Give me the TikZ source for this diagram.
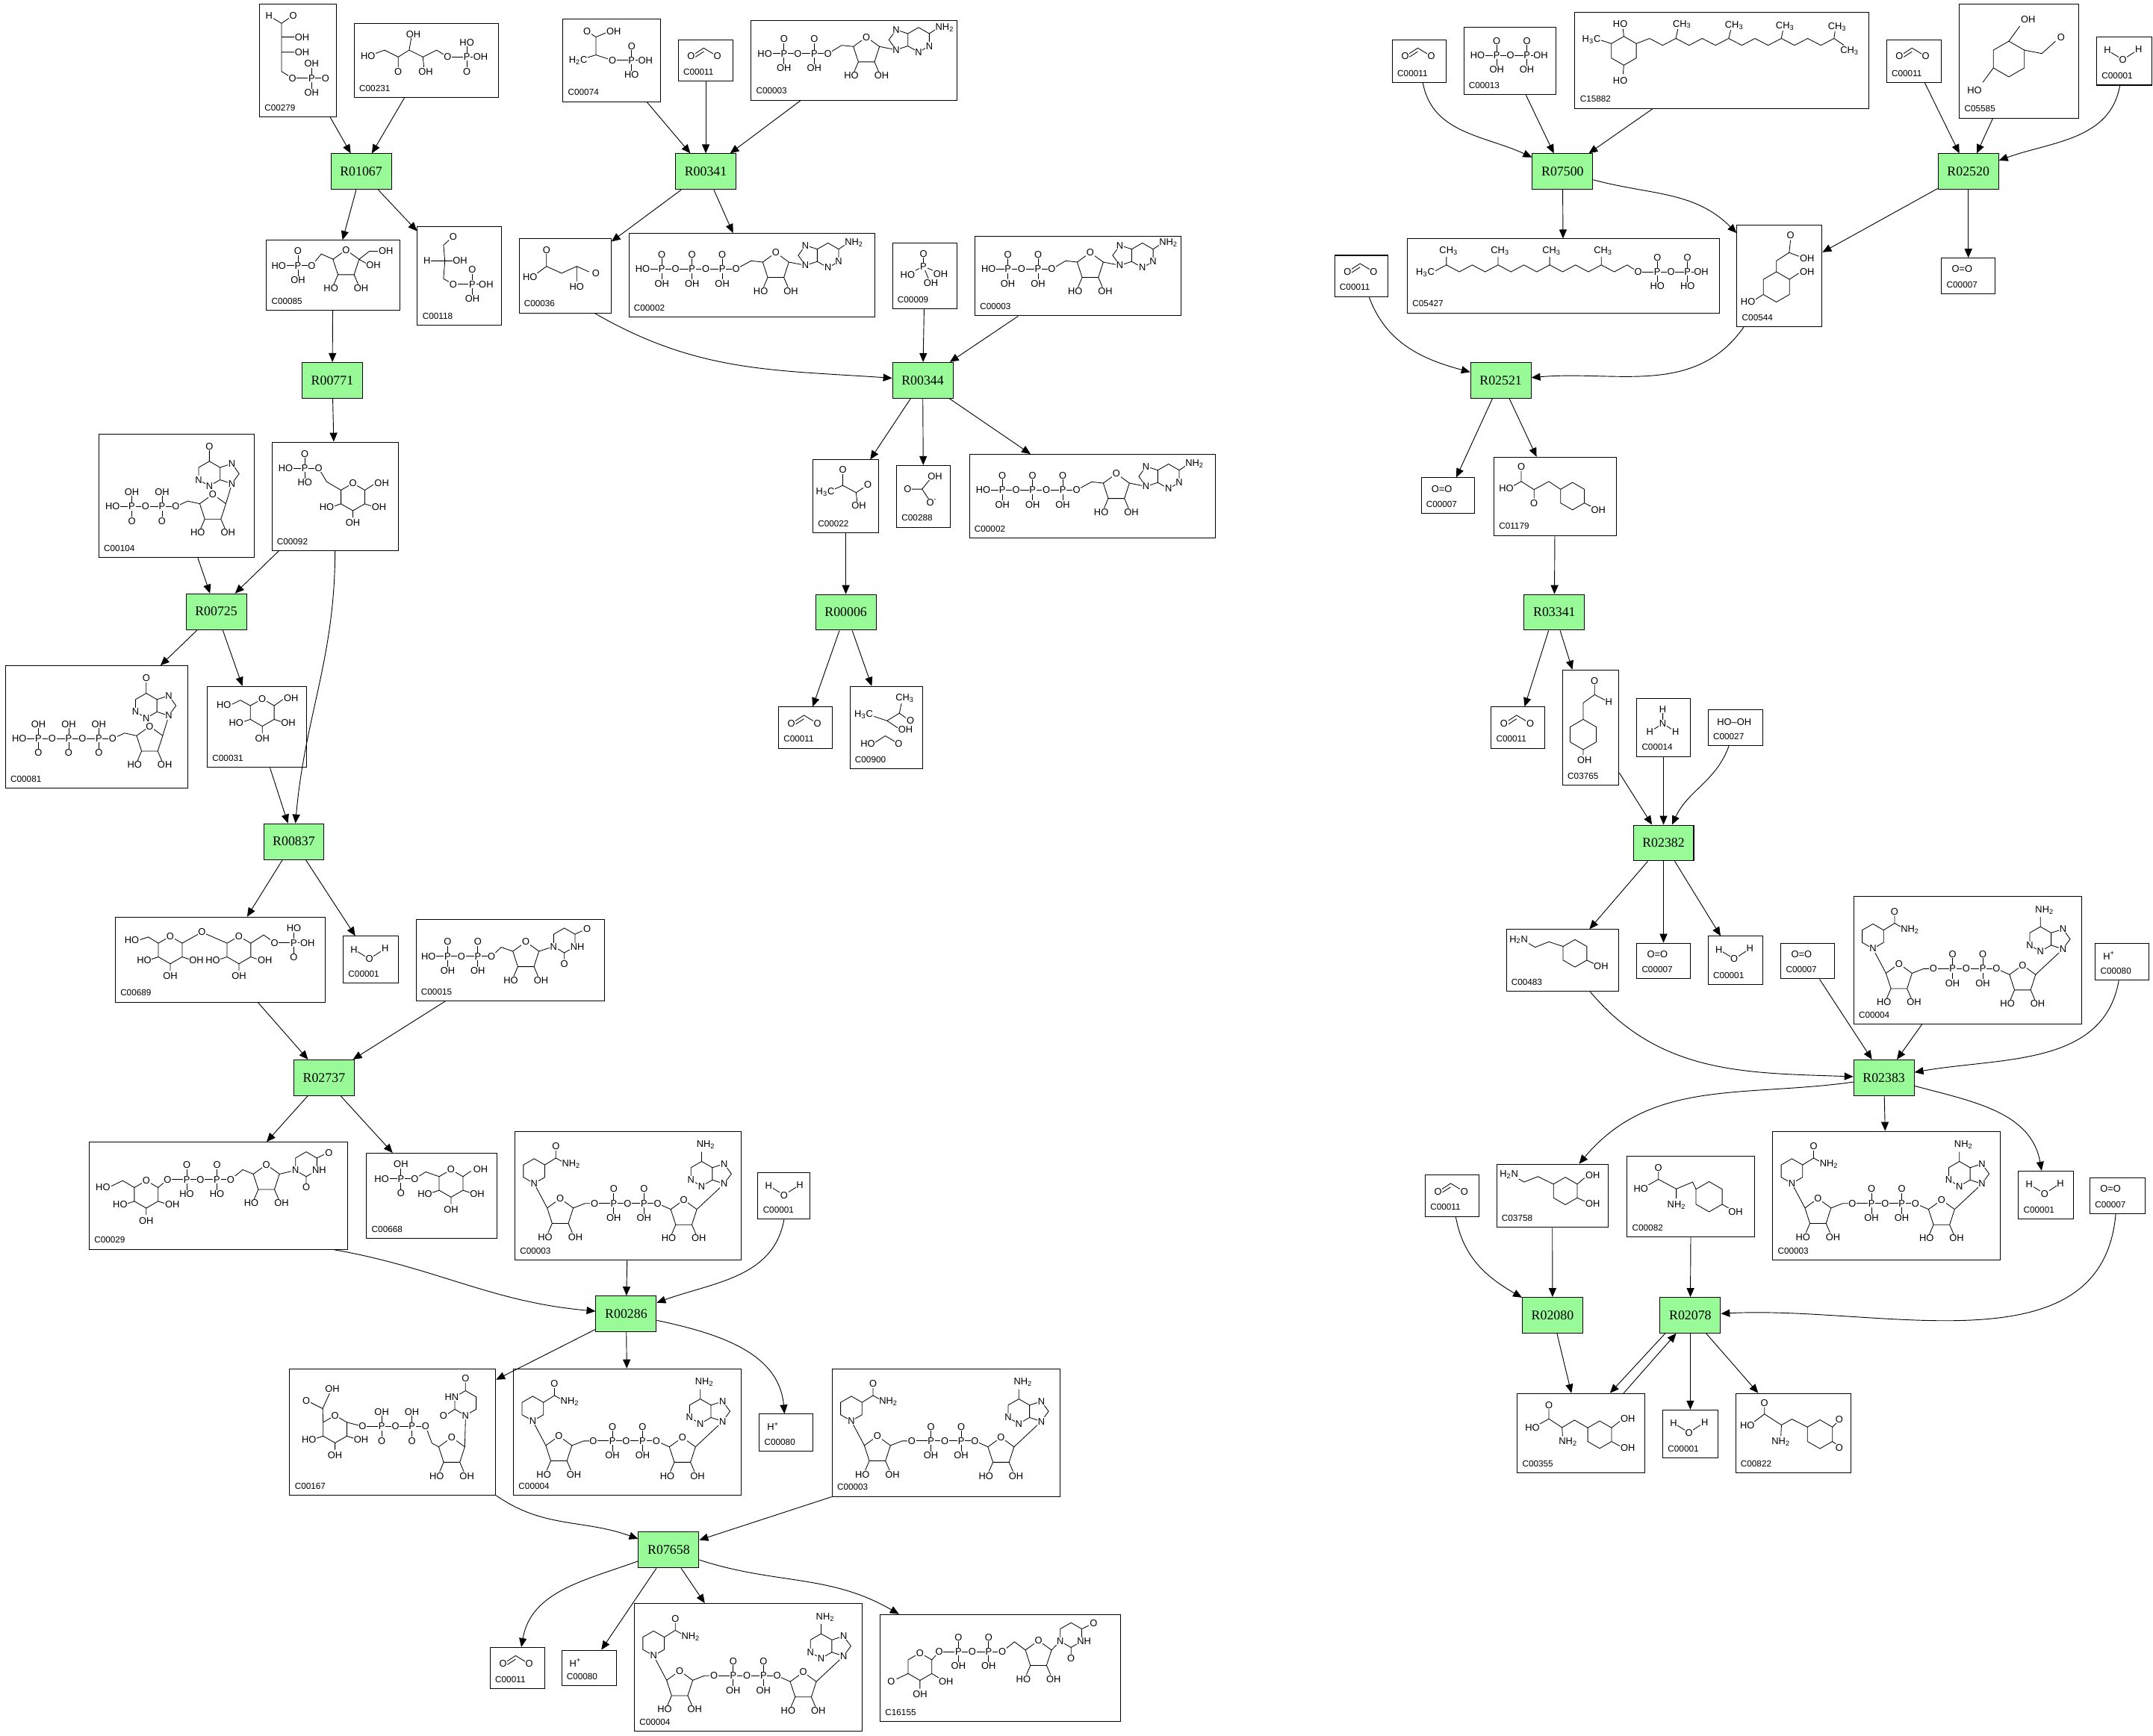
\documentclass[tikz,border=0pt]{standalone}
\usepackage{fontspec}
\setmainfont{Liberation Serif}
\setsansfont{Liberation Sans}
\usetikzlibrary{arrows.meta}
\definecolor{rxngreen}{RGB}{152,251,152}
\tikzset{
  rxn/.style={draw, line width=0.55pt, fill=rxngreen, minimum width=44pt, minimum height=26pt, inner sep=0pt, font=\fontsize{9.7}{10}\selectfont},
  cpdbox/.style={draw, line width=0.55pt, inner sep=0pt},
  cid/.style={anchor=base west, inner sep=0pt, font=\sffamily\fontsize{6.4}{7}\selectfont},
  atom/.style={fill=white, inner sep=0.4pt, font=\sffamily\fontsize{7}{8}\selectfont},
  bond/.style={line width=0.45pt},
  link/.style={line width=0.5pt, -{Triangle[length=6.5pt,width=5.5pt]}},
}
\newcommand\atm[3]{\node[atom] at (#1,#2) {#3};}
\newcommand\hexa[3]{\draw[bond] (#1,#2) +(-90:#3) -- +(-30:#3) -- +(30:#3) -- +(90:#3) -- +(150:#3) -- +(210:#3) -- cycle;}
\newcommand\ribose[2]{%
  \draw[bond] (#1,#2) +(-90:10) -- +(-18:10) -- +(54:10) -- +(126:10) -- +(198:10) -- cycle
    (#1,#2) ++(54:10) -- ++(3,7) (#1,#2) ++(126:10) -- ++(-3,7);
  \atm{#1}{#2-10}{O}\atm{#1-11}{#2+18}{HO}\atm{#1+11}{#2+18}{OH}}
\newcommand\purine[3]{%
  \begin{scope}[shift={(#1,#2)},xscale=#3]
    \draw[bond] (0,0) +(-90:9) -- +(-30:9) -- +(30:9) -- +(90:9) -- +(150:9) -- +(210:9) -- cycle
      (14,0) +(144:7.66) -- +(72:7.66) -- +(0:7.66) -- +(-72:7.66) -- +(-144:7.66);
    \atm{0}{9}{N}\atm{-7.8}{4.5}{N}\atm{16.4}{-7.3}{N}\atm{16.4}{7.3}{N}
  \end{scope}}
\newcommand\nicot[2]{%
  \hexa{#1}{#2}{9}
  \draw[bond] (#1+7.8,#2-4.5) -- (#1+15.8,#2-9.5) -- (#1+15.8,#2-15) (#1+15.8,#2-9.5) -- (#1+22,#2-6);
  \atm{#1}{#2+9}{N}\atm{#1+15.8}{#2-18}{O}\atm{#1+27}{#2-5}{NH\textsubscript{2}}}
\newcommand\uracil[2]{%
  \hexa{#1}{#2}{9}
  \draw[bond] (#1,#2+9) -- (#1,#2+14) (#1+7.8,#2-4.5) -- (#1+13,#2-7);
  \atm{#1-7.8}{#2+4.5}{N}\atm{#1+9.5}{#2+4.5}{NH}\atm{#1}{#2+17}{O}\atm{#1+16.5}{#2-8.5}{O}}
\newcommand\pyran[2]{%
  \hexa{#1}{#2}{10}
  \draw[bond] (#1+8.66,#2+5) -- ++(6,2) (#1,#2+10) -- ++(0,5) (#1-8.66,#2+5) -- ++(-6,2);
  \atm{#1}{#2-10}{O}\atm{#1+19}{#2+7.5}{OH}\atm{#1}{#2+19}{OH}\atm{#1-19}{#2+7.5}{HO}}
\newcommand\pchain[7]{%
  \draw[bond] (#1,#2) -- ({#1+22*#3+2},#2);
  \foreach \k in {1,...,#3}{
    \draw[bond] ({#1+22*\k-8},{#2-10.5}) -- ({#1+22*\k-8},{#2+10.5});
    \atm{#1+22*\k-8}{#2}{P}\atm{#1+22*\k-8}{#2-10.5}{#5}\atm{#1+22*\k-8}{#2+10.5}{#6}
    \ifnum\k>1 \atm{#1+22*\k-20}{#2}{O}\fi
  }
  \atm{#1}{#2}{#4}\atm{#1+22*#3+2}{#2}{#7}}
\newcommand\cotwo{\draw[bond] (9.3,12) -- (18.5,6) -- (28.4,12) (12.5,12.5) -- (18.5,8.6);\atm{9.3}{12}{O}\atm{28.4}{12}{O}}
\newcommand\water{\draw[bond] (7.8,9.6) -- (19,16.5) -- (30.5,9);\atm{7.8}{9.6}{H}\atm{19}{16.5}{O}\atm{30.5}{9}{H}}
\newcommand\dioxy{\atm{15}{8}{O=O}}
\newcommand\proton{\atm{10}{9}{H\textsuperscript{+}}}
\newcommand\atp[3]{%
  \draw[bond] ({12+22*#1},#2) -- ({#3-18},{#2-6}) -- ({#3-9.5},{#2-5.1})
    ({#3+9.5},{#2-5.1}) -- ({#3+21.6},{#2-2.7}) ({#3+45.8},{#2-14.5}) -- ({#3+51},{#2-18});
  \pchain{10}{#2}{#1}{HO}{O}{OH}{O}
  \ribose{#3}{#2-2}
  \purine{#3+38}{#2-10}{-1}
  \atm{#3+57}{#2-19}{NH\textsubscript{2}}}
\newcommand\ino[1]{%
  \draw[bond] ({12+22*#1},53) -- ({20.7+22*#1},49) -- ({29.5+22*#1},50.9)
    ({48.5+22*#1},50.9) -- ({52.9+22*#1},36.3) ({36.5+22*#1},20) -- ({36.5+22*#1},12);
  \pchain{10}{53}{#1}{HO}{OH}{O}{O}
  \ribose{39+22*#1}{54}
  \purine{36.5+22*#1}{29}{1}
  \atm{36.5+22*#1}{9}{O}}
\newcommand\nad{%
  \draw[bond] (14,38) -- (23.5,55.9) (42.5,55.9) -- (51,52.6) -- (58,52.6) (104,52.6) -- (113.5,56.9)
    (132.5,56.9) -- (152.4,38.3) (136,22) -- (136,15);
  \nicot{14}{29}
  \ribose{33}{59}
  \ribose{123}{60}
  \pchain{58}{52.6}{2}{O}{O}{OH}{O}
  \purine{136}{31}{1}
  \atm{139}{10}{NH\textsubscript{2}}}
\newcommand\cpd[7]{%
  \node[cpdbox, minimum width={(#4-#2)*1pt}, minimum height={(#5-#3)*1pt}] (#1) at ({(#2+#4)/2},{-(#3+#5)/2}) {};
  \begin{scope}[shift={(#2,-#3)},yscale=-1]
    \node[cid] (#1id) at (3.5,{#5-#3-4.5}) {#6};
    #7
  \end{scope}}

\begin{document}
\begin{tikzpicture}[x=1pt,y=1pt]
\useasboundingbox (0,0) rectangle (1568,-1264);

\node[rxn] (r01067) at (263,-125) {R01067};
\node[rxn] (r00341) at (514,-125) {R00341};
\node[rxn] (r00771) at (242,-277) {R00771};
\node[rxn] (r00344) at (672,-277) {R00344};
\node[rxn] (r00725) at (157.5,-445.5) {R00725};
\node[rxn] (r00006) at (616,-446) {R00006};
\node[rxn] (r00837) at (214,-613) {R00837};
\node[rxn] (r02737) at (236,-785) {R02737};
\node[rxn] (r00286) at (456,-957) {R00286};
\node[rxn] (r07658) at (487,-1129) {R07658};
\node[rxn] (r07500) at (1138,-125) {R07500};
\node[rxn] (r02520) at (1433.5,-125) {R02520};
\node[rxn] (r02521) at (1093,-277) {R02521};
\node[rxn] (r03341) at (1132,-446) {R03341};
\node[rxn] (r02382) at (1211.5,-614) {R02382};
\node[rxn] (r02383) at (1372,-785) {R02383};
\node[rxn] (r02080) at (1130.7,-958) {R02080};
\node[rxn] (r02078) at (1231,-958) {R02078};

\cpd{c279}{189}{3}{245}{85}{C00279}{
  \draw[bond] (7,8.5) -- (16,14) -- (24,8.5) (16,14) -- (16,49) -- (24,54) (16,24) -- (28,24) (16,35) -- (28,35);
  \atm{7}{8.5}{H}\atm{24.5}{8.5}{O}\atm{31}{24}{OH}\atm{31}{35}{OH}
  \pchain{24}{54}{1}{O}{OH}{OH}{O}}
\cpd{c231}{258}{17}{363}{71}{C00231}{
  \draw[bond] (10,24) -- (22,19.5) -- (32,24.5) -- (40,19.5) -- (50,24.5) -- (60,19.5) -- (68,24.5) (32,24.5) -- (32,35) (40,19.5) -- (42,8) (50,24.5) -- (51,35);
  \atm{10}{24}{HO}\atm{32}{35}{O}\atm{43}{8}{OH}\atm{52}{35}{OH}
  \pchain{68}{24.5}{1}{O}{HO}{O}{OH}}
\cpd{c74}{410}{14}{481}{74}{C00074}{
  \draw[bond] (11,30) -- (24,26) -- (24,13) -- (17.5,8.7) (24,13) -- (34,8.7) (24,26) -- (36,30);
  \atm{11}{30}{H\textsubscript{2}C}\atm{17.5}{8.7}{O}\atm{37}{8.7}{OH}
  \pchain{36}{30}{1}{O}{O}{HO}{OH}}
\cpd{c11a}{494}{29}{534}{59}{C00011}{\cotwo}
\cpd{c3a}{547}{15}{697}{73}{C00003}{\atp{2}{24}{84}}
\cpd{c85}{194}{175}{291}{226}{C00085}{
  \draw[bond] (33,18.5) -- (40,10) -- (49,14) (67.5,13.9) -- (75,8) -- (82,8) (67.5,13.9) -- (74,17.5);
  \pchain{9}{18.5}{1}{HO}{O}{OH}{O}
  \ribose{58}{17}
  \atm{87}{8}{OH}\atm{78}{18}{OH}}
\cpd{c118}{304}{165}{365}{237}{C00118}{
  \draw[bond] (19,13.6) -- (25,8) (19,13.6) -- (20,25) -- (19,38) -- (26,42) (9,25) -- (30,25);
  \atm{26}{7.5}{O}\atm{7}{25}{H}\atm{31}{25}{OH}
  \pchain{26}{42}{1}{O}{O}{OH}{OH}}
\cpd{c36}{378}{174}{445}{228}{C00036}{
  \draw[bond] (20,20) -- (20,11) (20,20) -- (12,26) (20,20) -- (31,25) -- (42,20) -- (51,24) (42,20) -- (42,31);
  \atm{20}{8}{O}\atm{8}{28}{HO}\atm{56}{25}{O}\atm{42}{35}{HO}}
\cpd{c2a}{458}{170}{637}{231}{C00002}{\atp{3}{26}{107}}
\cpd{c9}{650}{177}{697}{225}{C00009}{
  \draw[bond] (22.5,8) -- (22.5,17) -- (11,23) (22.5,17) -- (34,22) (22.5,17) -- (27,28);
  \atm{22.5}{8}{O}\atm{22.5}{17}{P}\atm{11}{23}{HO}\atm{35}{22.5}{OH}\atm{28}{29}{OH}}
\cpd{c3b}{710}{172}{860}{230}{C00003}{\atp{2}{24}{84}}
\cpd{c104}{72}{316}{185}{406}{C00104}{\ino{2}}
\cpd{c92}{198}{322}{290}{401}{C00092}{
  \draw[bond] (34,19) -- (40,29) -- (50.3,35) (67.7,35) -- (74,31);
  \pchain{10}{19}{1}{HO}{O}{HO}{O}
  \pyran{59}{40}
  \atm{80}{30}{OH}}
\cpd{c22}{592}{335}{640}{388}{C00022}{
  \draw[bond] (14,22) -- (21.8,18.6) -- (31.5,23.8) -- (38,19.5) (21.8,18.6) -- (21.8,8) (31.5,23.8) -- (32.5,33);
  \atm{9}{23.5}{H\textsubscript{3}C}\atm{21.8}{7.3}{O}\atm{40}{18.2}{O}\atm{33.5}{33.5}{OH}}
\cpd{c288}{653}{339}{692}{384}{C00288}{
  \draw[bond] (8,17.3) -- (18.5,17.3) -- (26,8) (18.5,17.3) -- (25,27);
  \atm{8}{17.3}{O}\atm{28}{8}{OH}\atm{25.5}{27}{O\textsuperscript{-}}}
\cpd{c2b}{706}{331}{885}{392}{C00002}{\atp{3}{26}{107}}
\cpd{c81}{4}{485}{137}{574}{C00081}{\ino{3}}
\cpd{c31}{151}{500}{223}{559}{C00031}{
  \draw[bond] (48.66,14) -- (55,9.5) (31.34,14) -- (24,10) -- (18,13);
  \pyran{40}{19}
  \atm{61}{8.5}{OH}\atm{12}{13.5}{HO}}
\cpd{c11b}{567}{515}{606}{545}{C00011}{\cotwo}
\cpd{c900}{619}{500}{672}{560}{C00900}{
  \draw[bond] (15,21) -- (27,25) -- (36,19.5) -- (38,10) (36,19.5) -- (43,24.6) (27,25) -- (36,31) (18,41) -- (25.7,36) -- (35,41.5);
  \atm{40}{8.7}{CH\textsubscript{3}}\atm{10}{20.6}{H\textsubscript{3}C}\atm{44}{25}{O}\atm{40.5}{31.5}{OH}\atm{13}{41.5}{HO}\atm{35.5}{41.5}{O}}
\cpd{c689}{84}{668}{237}{730}{C00689}{
  \draw[bond] (48.66,19) -- (63,11) -- (81.34,19) (31.34,19) -- (24,14.5) -- (18,16.5) (98.66,19) -- (108,13) -- (116,18.7);
  \pyran{40}{24}\pyran{90}{24}
  \atm{63}{11}{O}\atm{12}{16.5}{HO}
  \pchain{116}{18.7}{1}{O}{HO}{O}{OH}}
\cpd{c1a}{250}{682}{290}{716}{C00001}{\water}
\cpd{c15}{303}{670}{440}{729}{C00015}{
  \draw[bond] (55,26.6) -- (62,20) -- (70.5,22.9) (89.5,22.9) -- (100,19.5);
  \pchain{9}{26.6}{2}{HO}{O}{OH}{O}
  \ribose{80}{26}
  \uracil{108}{15}}
\cpd{c29}{65}{832}{253}{910}{C00029}{
  \draw[bond] (32.84,33) -- (24.4,28) -- (16,32) (50.16,33) -- (57,27.2) (103,27.2) -- (111.8,20) -- (119.5,23.2) (138.5,23.2) -- (150,20.5);
  \pyran{41.5}{38}
  \atm{10}{32.6}{HO}
  \pchain{57}{27.2}{2}{O}{O}{HO}{O}
  \ribose{129}{26.3}
  \uracil{158}{16}}
\cpd{c668}{267}{840}{362}{902}{C00668}{
  \draw[bond] (35,18.7) -- (43,13.6) -- (52.84,17) (70.16,17) -- (76,13);
  \pchain{11}{18.7}{1}{HO}{OH}{O}{O}
  \pyran{61.5}{22}
  \atm{83}{12}{OH}}
\cpd{c3c}{375}{824}{540}{918}{C00003}{\nad}
\cpd{c1b}{552}{854}{590}{888}{C00001}{\water}
\cpd{c167}{211}{997}{361}{1089}{C00167}{
  \draw[bond] (24.34,39) -- (24,29) -- (14,24) (24,29) -- (29,18) (41.66,39) -- (53,42)
    (99,42) -- (103.6,54.2) -- (108.5,56.9) (127.5,56.9) -- (128,37) (120.2,29.5) -- (115,33) (128,16) -- (128,10);
  \pyran{33}{44}
  \atm{12}{23.5}{O}\atm{31}{14.5}{OH}
  \pchain{53}{42}{2}{O}{OH}{O}{O}
  \ribose{118}{60}
  \hexa{128}{25}{9}
  \atm{128}{34}{N}\atm{118}{20.5}{HN}\atm{112}{34}{O}\atm{128}{7}{O}}
\cpd{c4a}{374}{997}{540}{1089}{C00004}{\nad}
\cpd{c80a}{553}{1030}{592}{1057}{C00080}{\proton}
\cpd{c3d}{606}{997}{772}{1090}{C00003}{\nad}
\cpd{c11c}{357}{1200}{397}{1230}{C00011}{\cotwo}
\cpd{c80b}{409}{1202}{449}{1228}{C00080}{\proton}
\cpd{c4b}{462}{1168}{628}{1261}{C00004}{\nad}
\cpd{c16155}{641}{1176}{816}{1254}{C16155}{
  \draw[bond] (37.66,33) -- (43,27) (20.34,43) -- (12,47) (37.66,43) -- (44,47) (29,48) -- (29,54)
    (89,27) -- (97.8,19.9) -- (105.8,25.9) (124.8,25.9) -- (131,19.5);
  \hexa{29}{38}{10}
  \atm{29}{28}{O}\atm{8}{48.8}{O}\atm{48}{48.8}{OH}\atm{29}{58}{OH}
  \pchain{43}{27}{2}{O}{O}{OH}{O}
  \ribose{115.3}{29}
  \uracil{139}{15}}

\cpd{c11d}{1014}{29}{1053}{60}{C00011}{\cotwo}
\cpd{c13}{1066}{20}{1133}{69}{C00013}{\pchain{10}{20.3}{2}{HO}{O}{OH}{OH}}
\cpd{c15882}{1147}{9}{1361}{79}{C15882}{
  \draw[bond] (35.6,17.5) -- (35,12) (26.5,22.75) -- (18,20) (35.6,38.5) -- (35,45)
    (44.7,22.75) \foreach \k in {1,...,15}{ -- ({44.7+9.6*\k},{24-5*mod(\k,2)})}
    (73.5,19) -- (75,12) (111.9,19) -- (113.5,13) (150.3,19) -- (151.5,13) (188.7,19) -- (189.5,13) (188.7,19) -- (196,24);
  \hexa{35.6}{28}{10.5}
  \atm{33}{8.5}{HO}\atm{12}{20}{H\textsubscript{3}C}\atm{33}{50}{HO}\atm{78}{8.7}{CH\textsubscript{3}}\atm{116}{9.6}{CH\textsubscript{3}}\atm{153}{10}{CH\textsubscript{3}}\atm{191}{10.5}{CH\textsubscript{3}}\atm{200}{28}{CH\textsubscript{3}}}
\cpd{c11e}{1374}{29}{1414}{60}{C00011}{\cotwo}
\cpd{c5585}{1427}{3}{1514}{86}{C05585}{
  \draw[bond] (36,27) -- (44,16) (47.26,33.5) -- (60,36) -- (70,27) (24.74,46.5) -- (17,57);
  \hexa{36}{40}{13}
  \atm{50}{11}{OH}\atm{74}{24}{O}\atm{11}{63}{HO}}
\cpd{c1c}{1527}{27}{1567}{62}{C00001}{\water}
\cpd{c5427}{1025}{174}{1252}{228}{C05427}{
  \draw[bond] (19,24) \foreach \k in {1,...,15}{ -- ({19+9.4*\k},{24-5*mod(\k,2)})} -- (168,24)
    (28.4,19) -- (28.4,13) (66,19) -- (66,13) (103.6,19) -- (103.6,13) (141.2,19) -- (141.2,13);
  \atm{13}{24.7}{H\textsubscript{3}C}\atm{30}{8.7}{CH\textsubscript{3}}\atm{67.5}{8.7}{CH\textsubscript{3}}\atm{105}{8.7}{CH\textsubscript{3}}\atm{142.5}{8.7}{CH\textsubscript{3}}
  \pchain{168}{24}{2}{O}{O}{HO}{OH}}
\cpd{c544}{1265}{164}{1327}{238}{C00544}{
  \draw[bond] (28.7,34) -- (28.7,26) -- (38,20) -- (39,11) (38,20) -- (46,23) (38.2,39.5) -- (45,35) (19.2,50.5) -- (12,55);
  \hexa{28.7}{45}{11}
  \atm{39}{7.5}{O}\atm{51}{24}{OH}\atm{51}{34}{OH}\atm{8}{56}{HO}}
\cpd{c7a}{1414}{188}{1453}{214}{C00007}{\dioxy}
\cpd{c11f}{972}{186}{1011}{216}{C00011}{\cotwo}
\cpd{c7b}{1035}{348}{1074}{374}{C00007}{\dioxy}
\cpd{c1179}{1088}{333}{1177}{390}{C01179}{
  \draw[bond] (14,21) -- (19.9,17.7) -- (29.2,23.6) -- (40,17.7) -- (48.5,23.4) (19.9,17.7) -- (19.9,10) (29.2,23.6) -- (29.2,30) (65.9,33.4) -- (71,36);
  \hexa{57.2}{28.4}{10}
  \atm{20}{7}{O}\atm{9}{22.5}{HO}\atm{29.2}{33.5}{O}\atm{76}{38.5}{OH}}
\cpd{c11g}{1086}{515}{1125}{545}{C00011}{\cotwo}
\cpd{c3765}{1138}{488}{1179}{572}{C03765}{
  \draw[bond] (23.3,10) -- (23.3,18) -- (31,22) (23.3,18) -- (15,24) -- (15,36) (15,58) -- (15,62);
  \hexa{15}{47}{11}
  \atm{23.3}{7.8}{O}\atm{33.6}{23.3}{H}\atm{16}{65.5}{OH}}
\cpd{c14}{1192}{509}{1231}{551}{C00014}{
  \draw[bond] (19,7.5) -- (19,18) -- (9.6,24) (19,18) -- (28.3,24);
  \atm{19}{7.5}{H}\atm{19}{18}{N}\atm{9.6}{24}{H}\atm{28.3}{24}{H}}
\cpd{c27}{1244}{517}{1284}{543}{C00027}{\atm{19}{9}{HO--OH}}
\cpd{c483}{1097}{677}{1179}{722}{C00483}{
  \draw[bond] (13.5,8.5) -- (21,13) -- (31,9) -- (41.34,12.4) (58.66,22.4) -- (64,25);
  \hexa{50}{17.4}{10}
  \atm{9}{7.5}{H\textsubscript{2}N}\atm{69}{26.8}{OH}}
\cpd{c7c}{1192}{687}{1231}{713}{C00007}{\dioxy}
\cpd{c1d}{1244}{682}{1284}{717}{C00001}{\water}
\cpd{c7d}{1297}{687}{1336}{713}{C00007}{\dioxy}
\cpd{c4c}{1350}{653}{1516}{746}{C00004}{\nad}
\cpd{c80c}{1526}{687}{1565}{714}{C00080}{\proton}
\cpd{c11h}{1038}{856}{1077}{886}{C00011}{\cotwo}
\cpd{c3758}{1090}{848}{1171}{894}{C03758}{
  \draw[bond] (13,9) -- (20,13) -- (30,9) -- (41.34,14.5) (58.66,14.5) -- (64,10) (58.66,24.5) -- (64,27);
  \hexa{50}{19.5}{10}
  \atm{9}{7.6}{H\textsubscript{2}N}\atm{70}{8}{OH}\atm{70}{29}{OH}}
\cpd{c82}{1185}{842}{1278}{901}{C00082}{
  \draw[bond] (22.8,11) -- (22.8,17) -- (14,22) (22.8,17) -- (35.8,24) -- (35.8,31) (35.8,24) -- (47.7,19) -- (50.2,24.2) (69.2,35.2) -- (74,38);
  \hexa{59.7}{29.7}{11}
  \atm{22.8}{8.4}{O}\atm{10}{24}{HO}\atm{36}{36}{NH\textsubscript{2}}\atm{79}{41}{OH}}
\cpd{c3e}{1291}{824}{1457}{918}{C00003}{\nad}
\cpd{c1e}{1470}{853}{1510}{888}{C00001}{\water}
\cpd{c7e}{1522}{858}{1562}{884}{C00007}{\dioxy}
\cpd{c355}{1105}{1015}{1198}{1073}{C00355}{
  \draw[bond] (23,11.5) -- (23,18.5) -- (15,23) (23,18.5) -- (32.6,24.8) -- (33,31) (32.6,24.8) -- (41.7,19.4) -- (51.34,25) (68.66,25) -- (75,20) (68.66,35) -- (75,38.5);
  \hexa{60}{30}{10}
  \atm{23}{8.5}{O}\atm{11}{24.8}{HO}\atm{37}{35}{NH\textsubscript{2}}\atm{80.5}{18.5}{OH}\atm{80.5}{39.5}{OH}}
\cpd{c1f}{1211}{1027}{1251}{1062}{C00001}{\water}
\cpd{c822}{1264}{1015}{1348}{1073}{C00822}{
  \draw[bond] (21,10) -- (21,15) -- (13,21) (21,15) -- (33.4,23) -- (33,31) (33.4,23) -- (41,18.7) -- (52.3,24.45) (70.5,24.45) -- (74,21) (70.5,35) -- (74,37.5);
  \hexa{61.4}{29.7}{10.5}
  \atm{21}{6.9}{O}\atm{8.5}{23.3}{HO}\atm{33}{35}{NH\textsubscript{2}}\atm{75.5}{18.7}{O}\atm{75.5}{39.7}{O}}

\draw[link] (c279) -- (r01067);
\draw[link] (c231) -- (r01067);
\draw[link] (r01067) -- (c85);
\draw[link] (r01067) -- (c118);
\draw[link] (c74) -- (r00341);
\draw[link] (c11a) -- (r00341);
\draw[link] (c3a) -- (r00341);
\draw[link] (r00341) -- (c36);
\draw[link] (r00341) -- (c2a);
\draw[link] (c85) -- (r00771);
\draw[link] (r00771) -- (c92);
\draw[link] ([xshift=-12pt]c36.south east) to[out=-30,in=176] (r00344);
\draw[link] (c9) -- (r00344);
\draw[link] (c3b) -- (r00344);
\draw[link] (r00344) -- (c22);
\draw[link] (r00344) -- (c288);
\draw[link] (r00344) -- (c2b);
\draw[link] (c104) -- (r00725);
\draw[link] (c92) -- (r00725);
\draw[link] (r00725) -- (c81);
\draw[link] (r00725) -- (c31);
\draw[link] (c22) -- (r00006);
\draw[link] (r00006) -- (c11b);
\draw[link] (r00006) -- (c900);
\draw[link] (c31) -- (r00837);
\draw[link] (c92.south) to[out=-90,in=85] (r00837);
\draw[link] (r00837) -- (c689);
\draw[link] (r00837) -- (c1a);
\draw[link] (c689) -- (r02737);
\draw[link] (c15) -- (r02737);
\draw[link] (r02737) -- (c29);
\draw[link] (r02737) -- (c668);
\draw[link] ([xshift=-10pt]c29.south east) to[out=-10,in=175] (r00286);
\draw[link] (c3c) -- (r00286);
\draw[link] (c1b.south) to[out=-100,in=20] (r00286);
\draw[link] (r00286) -- (c167);
\draw[link] (r00286) -- (c4a);
\draw[link] (r00286) to[out=-12,in=95] (c80a);
\draw[link] (c167.south east) to[out=-35,in=160] (r07658);
\draw[link] (c3d.south west) -- (r07658);
\draw[link] (r07658) to[out=200,in=80] (c11c);
\draw[link] (r07658) -- (c80b);
\draw[link] (r07658) -- (c4b);
\draw[link] (r07658) to[out=-18,in=150] ([xshift=14pt]c16155.north west);

\draw[link] (c11d) to[out=-80,in=155] (r07500);
\draw[link] (c13) -- (r07500);
\draw[link] (c15882) -- (r07500);
\draw[link] (r07500) -- (c5427);
\draw[link] (r07500) to[out=-15,in=135] (c544);
\draw[link] (c11e) -- (r02520);
\draw[link] (c5585) -- (r02520);
\draw[link] (c1c) to[out=-100,in=20] (r02520);
\draw[link] (r02520) -- (c544);
\draw[link] (r02520) -- (c7a);
\draw[link] (c11f) to[out=-70,in=165] (r02521);
\draw[link] (c544) to[out=-125,in=5] (r02521);
\draw[link] (r02521) -- (c7b);
\draw[link] (r02521) -- (c1179);
\draw[link] (c1179) -- (r03341);
\draw[link] (r03341) -- (c11g);
\draw[link] (r03341) -- (c3765);
\draw[link] (c3765) -- (r02382);
\draw[link] (c14) -- (r02382);
\draw[link] (c27) to[out=-110,in=65] (r02382);
\draw[link] (r02382) -- (c483);
\draw[link] (r02382) -- (c7c);
\draw[link] (r02382) -- (c1d);
\draw[link] ([xshift=20pt]c483.south) to[out=-50,in=178] (r02383);
\draw[link] (c7d) -- (r02383);
\draw[link] (c4c) -- (r02383);
\draw[link] (c80c) to[out=-100,in=10] (r02383);
\draw[link] (r02383) to[out=188,in=50] (c3758);
\draw[link] (r02383) -- (c3e);
\draw[link] (r02383) to[out=-15,in=100] (c1e);
\draw[link] (c11h) to[out=-80,in=150] (r02080);
\draw[link] (c3758) -- (r02080);
\draw[link] (c82) -- (r02078);
\draw[link] (c7e) to[out=-95,in=3] (r02078);
\draw[link] (r02080) -- (c355);
\draw[link] ([xshift=4pt]r02078.south west) -- ([xshift=21pt]c355.north);
\draw[link] ([xshift=31pt]c355.north) -- ([xshift=12pt]r02078.south west);
\draw[link] (r02078) -- (c1f);
\draw[link] (r02078) -- (c822);
\end{tikzpicture}
\end{document}
